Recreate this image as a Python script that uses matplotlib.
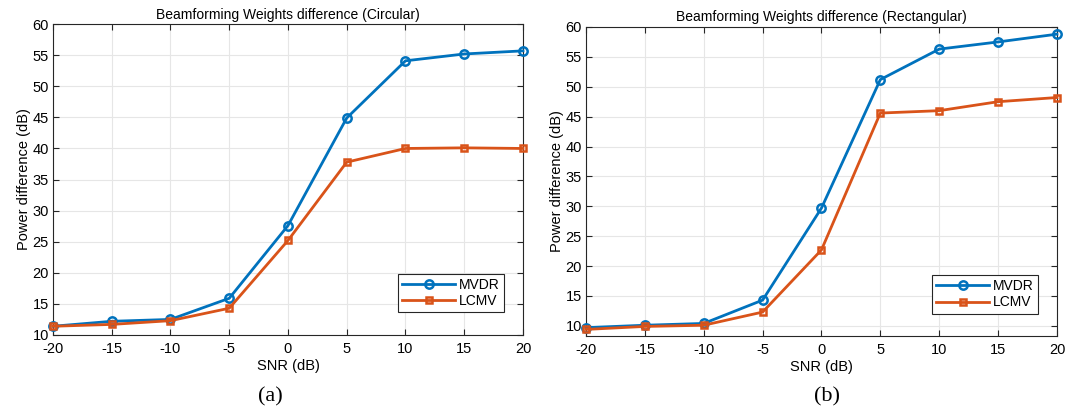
import matplotlib.pyplot as plt
import numpy as np

plt.rcParams['font.family'] = ['Liberation Sans', 'DejaVu Sans']
plt.rcParams['axes.unicode_minus'] = False

snr = [-20, -15, -10, -5, 0, 5, 10, 15, 20]

circ_mvdr = [11.4, 12.2, 12.5, 15.9, 27.6, 44.9, 54.1, 55.2, 55.7]
circ_lcmv = [11.4, 11.7, 12.3, 14.3, 25.2, 37.8, 40.0, 40.1, 40.0]

rect_mvdr = [9.7, 10.1, 10.4, 14.3, 29.7, 51.2, 56.3, 57.5, 58.8]
rect_lcmv = [9.4, 9.9, 10.1, 12.3, 22.7, 45.6, 46.0, 47.5, 48.2]

titles = ['Beamforming Weights difference (Circular)',
          'Beamforming Weights difference (Rectangular)']
captions = ['(a)', '(b)']

BLUE = '#0072BD'
ORANGE = '#D95319'

fig = plt.figure(figsize=(10.66, 4.09), dpi=100)
ax1 = fig.add_axes([0.0497, 0.181, 0.4409, 0.760])
ax2 = fig.add_axes([0.5497, 0.1785, 0.4418, 0.7555])


def draw(ax, mvdr, lcmv, title, ylim):
    ax.plot(snr, mvdr, color=BLUE, lw=2, marker='o', ms=6, mfc='none',
            mew=1.8, label='MVDR', clip_on=False, zorder=3)
    ax.plot(snr, lcmv, color=ORANGE, lw=2, marker='s', ms=5, mfc='none',
            mew=1.8, label='LCMV', clip_on=False, zorder=3)
    ax.set_xlim(-20, 20)
    ax.set_ylim(*ylim)
    ax.set_xticks(snr)
    ax.set_yticks(np.arange(10, 61, 5))
    ax.set_title(title, fontsize=10, pad=4)
    ax.set_xlabel('SNR (dB)', fontsize=10.5, labelpad=2)
    ax.set_ylabel('Power difference (dB)', fontsize=10.5, labelpad=1)
    ax.grid(True, color='#e6e6e6', lw=0.8)
    ax.set_axisbelow(True)
    ax.tick_params(direction='in', top=True, right=True, labelsize=10.5,
                   length=4, color='#262626')
    ax.tick_params(axis='x', pad=5)
    ax.tick_params(axis='y', pad=3)
    for s in ax.spines.values():
        s.set_color('#262626')
        s.set_linewidth(0.8)
    leg = ax.legend(loc='lower right', fontsize=10, fancybox=False,
                    framealpha=1, edgecolor='#262626',
                    bbox_to_anchor=(0.975, 0.05), handlelength=3.8,
                    borderpad=0.3, labelspacing=0.15, handletextpad=0.3)
    leg.get_frame().set_linewidth(0.8)


draw(ax1, circ_mvdr, circ_lcmv, titles[0], (10, 60))
draw(ax2, rect_mvdr, rect_lcmv, titles[1], (8.3, 60))

fig.text(270 / 1066, 1 - 397 / 409, captions[0], ha='center', va='center',
         fontsize=16, family='Liberation Serif')
fig.text(827 / 1066, 1 - 397 / 409, captions[1], ha='center', va='center',
         fontsize=16, family='Liberation Serif')

fig.savefig('out.png', dpi=100)
